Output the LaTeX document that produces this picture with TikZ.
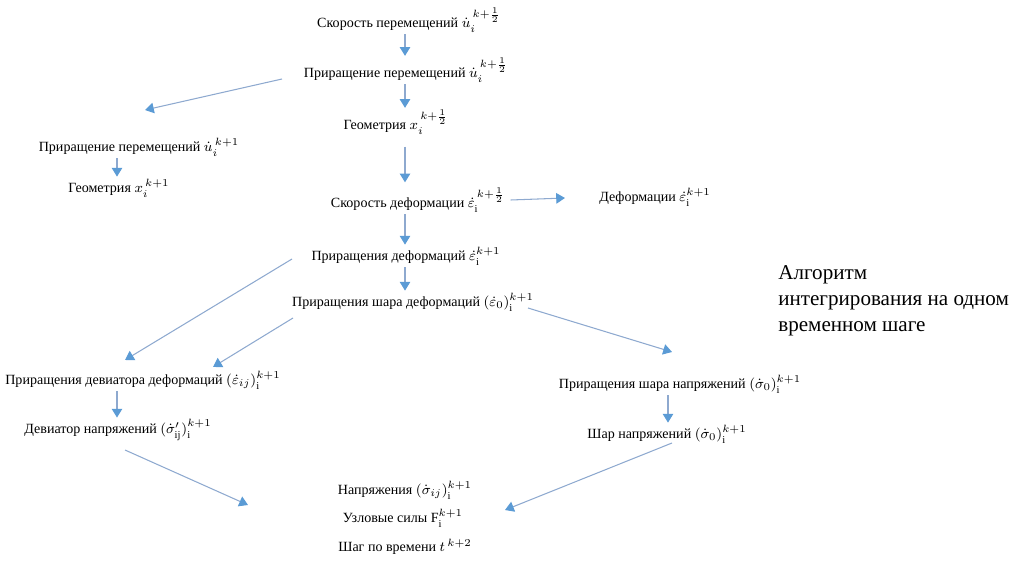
\documentclass[tikz,border=0pt]{standalone}
\usepackage{fontspec}
\setmainfont{Liberation Serif}
\usepackage{tikz}
\usetikzlibrary{positioning, arrows.meta}
\definecolor{tipblue}{HTML}{5B9BD5}
\definecolor{lineblue}{HTML}{8EA9CF}

\begin{document}
\begin{tikzpicture}[x=0.02cm, y=-0.02cm,
    stage/.style={font=\fontsize{8}{10}\selectfont, inner sep=1pt},
    flow/.style={draw=lineblue, line width=0.6pt,
      -{Triangle[width=6pt, length=5pt, color=tipblue]}}]
    \useasboundingbox (0,0) rectangle (1024,574);
    \coordinate (spine) at (405,0);
    % middle column
    \node[stage] (velU) at (409,20) {Скорость перемещений $\dot u_i^{\,k+\frac12}$};
    \node[stage] (incU) at (406,70) {Приращение перемещений $\dot u_i^{\,k+\frac12}$};
    \node[stage] (geoHalf) at (396,122) {Геометрия $x_i^{\,k+\frac12}$};
    \node[stage] (rateEps) at (418,200) {Скорость деформации $\dot\varepsilon_{\mathrm{i}}^{\,k+\frac12}$};
    \node[stage] (epsFull) at (655,197) {Деформации $\dot\varepsilon_{\mathrm{i}}^{k+1}$};
    \node[stage] (incEps) at (406,256) {Приращения деформаций $\dot\varepsilon_{\mathrm{i}}^{k+1}$};
    \node[stage] (incEpsBall) at (413,302) {Приращения шара деформаций $(\dot\varepsilon_0)_{\mathrm{i}}^{k+1}$};
    % left column
    \node[stage] (incUFull) at (139,147) {Приращение перемещений $\dot u_i^{\,k+1}$};
    \node[stage] (geoFull) at (119,188) {Геометрия $x_i^{\,k+1}$};
    \node[stage] (incEpsDev) at (143,380) {Приращения девиатора деформаций $(\dot\varepsilon_{ij})_{\mathrm{i}}^{k+1}$};
    \node[stage] (sigDev) at (118,430) {Девиатор напряжений $(\dot\sigma'_{\mathrm{ij}})_{\mathrm{i}}^{k+1}$};
    % right column
    \node[stage] (incSigBall) at (680,384) {Приращения шара напряжений $(\dot\sigma_0)_{\mathrm{i}}^{k+1}$};
    \node[stage] (sigBall) at (667,434) {Шар напряжений $(\dot\sigma_0)_{\mathrm{i}}^{k+1}$};
    % bottom
    \node[stage] (sigma) at (405,490) {Напряжения $(\dot\sigma_{ij})_{\mathrm{i}}^{k+1}$};
    \node[stage] (forces) at (403,518) {Узловые силы $\mathrm{F}_{\mathrm{i}}^{k+1}$};
    \node[stage] (tstep) at (405,547) {Шаг по времени $t^{\,k+2}$};
    \node[font=\fontsize{12}{14.8}\selectfont, align=left, anchor=west, inner sep=0pt]
      (title) at (778,301) {Алгоритм\\интегрирования на одном\\временном шаге};

    % free ends
    \coordinate (a1) at (282,79);  \coordinate (a2) at (145,110);
    \coordinate (b1) at (565,198);
    \coordinate (c1) at (292,259); \coordinate (c2) at (125,360);
    \coordinate (d1) at (293,318); \coordinate (d2) at (213,367);
    \coordinate (e1) at (528,308); \coordinate (e2) at (672,352);
    \coordinate (f1) at (125,450); \coordinate (f2) at (248,505);
    \coordinate (g1) at (672,443); \coordinate (g2) at (505,510);

    \draw[flow] (velU.south -| spine) -- (incU.north -| spine);
    \draw[flow] (incU.south -| spine) -- (geoHalf.north -| spine);
    \draw[flow] ([yshift=-6pt]geoHalf.south -| spine) -- ([yshift=2pt]rateEps.north -| spine);
    \draw[flow] (rateEps.south -| spine) -- (incEps.north -| spine);
    \draw[flow] (incEps.south -| spine) -- (incEpsBall.north -| spine);
    \draw[flow] (a1) -- (a2);
    \draw[flow] ([xshift=117*0.02cm-139*0.02cm]incUFull.south) -- ([xshift=-2*0.02cm]geoFull.north);
    \draw[flow] ([xshift=2pt]rateEps.east) -- (b1);
    \draw[flow] (c1) -- (c2);
    \draw[flow] (d1) -- (d2);
    \draw[flow] (e1) -- (e2);
    \draw[flow] ([xshift=-26*0.02cm]incEpsDev.south) -- ([xshift=-1*0.02cm]sigDev.north);
    \draw[flow] ([xshift=-12*0.02cm]incSigBall.south) -- ([xshift=1*0.02cm]sigBall.north);
    \draw[flow] (f1) -- (f2);
    \draw[flow] (g1) -- (g2);
\end{tikzpicture}
\end{document}
